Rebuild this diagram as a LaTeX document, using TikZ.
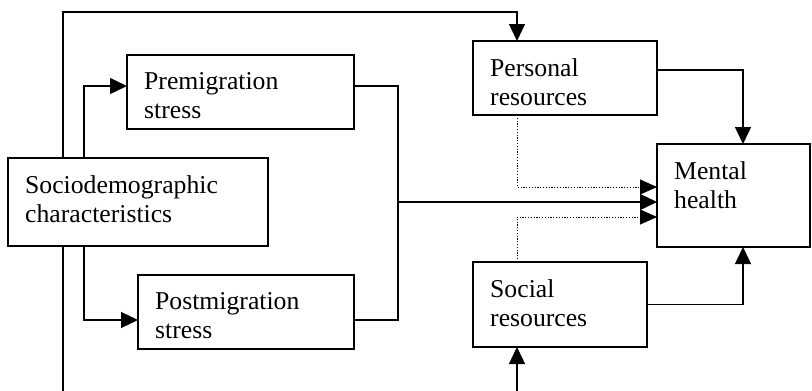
\documentclass[tikz,border=0pt]{standalone}
\usepackage{fontspec}
\setmainfont{Liberation Serif}
\usetikzlibrary{arrows.meta}
\tikzset{
  boxst/.style={draw, line width=1.3pt, fill=white, inner sep=0pt, outer sep=0pt, anchor=north west},
  txtst/.style={anchor=north west, align=left, inner xsep=17pt, inner ysep=17pt,
    font=\fontsize{25.7pt}{29.5pt}\selectfont},
  ln/.style={line width=1.4pt},
  arr/.style={ln, -{Triangle[length=17pt,width=16pt]}},
  dot/.style={line width=1pt, dash pattern=on 1.2pt off 1.6pt, -{Triangle[length=17pt,width=15pt]}},
}
\begin{document}
\begin{tikzpicture}[x=1pt,y=-1pt]
\clip (0,0) rectangle (812,391);
\fill[white] (0,0) rectangle (812,391);
% coordinates
\coordinate (L1) at (63,0);
\coordinate (L2) at (84,0);
\coordinate (T) at (517,12);
\coordinate (B) at (517,400);
\coordinate (R) at (398,202);
\coordinate (M) at (743,0);
\coordinate (Y1) at (0,86);
\coordinate (Y2) at (0,320);
\coordinate (YP) at (0,70);
\coordinate (D1) at (0,187);
\coordinate (D2) at (0,217);
% connectors (drawn first, boxes cover them)
\draw[arr] (L1 |- 0,200) |- (T) -- (T |- 0,41);
\draw[arr] (L1 |- 0,200) |- (B) -- (B |- 0,347);
\draw[arr] (L2 |- 0,200) |- (127,86);
\draw[arr] (L2 |- 0,200) |- (138,320);
% boxes
\node[boxst, minimum width=260pt, minimum height=88pt, label={[txtst]north west:{Sociodemographic\\characteristics}}] (soc) at (8,158) {};
\node[boxst, minimum width=227pt, minimum height=74pt, label={[txtst]north west:{Premigration\\stress}}] (pre) at (127,55) {};
\node[boxst, minimum width=216pt, minimum height=74pt, label={[txtst]north west:{Postmigration\\stress}}] (post) at (138,275) {};
\node[boxst, minimum width=184pt, minimum height=74pt, label={[txtst]north west:{Personal\\resources}}] (pers) at (473,41) {};
\node[boxst, minimum width=174pt, minimum height=85pt, label={[txtst]north west:{Social\\resources}}] (socr) at (473,262) {};
\node[boxst, minimum width=153pt, minimum height=103pt, label={[txtst]north west:{Mental\\health}}] (mh) at (657,144) {};
% stress to mental health
\draw[ln] (pre.east |- Y1) -| (R);
\draw[ln] (post.east |- Y2) -| (R);
\draw[arr] (R) -- (mh.west |- R);
% resources to mental health
\draw[dot] (pers.south -| T) |- (mh.west |- D1);
\draw[dot] (socr.north -| T) |- (mh.west |- D2);
\draw[arr] (pers.east |- YP) -| (mh.north -| M);
\draw[arr] (socr.east) -| (mh.south -| M);
\end{tikzpicture}
\end{document}
